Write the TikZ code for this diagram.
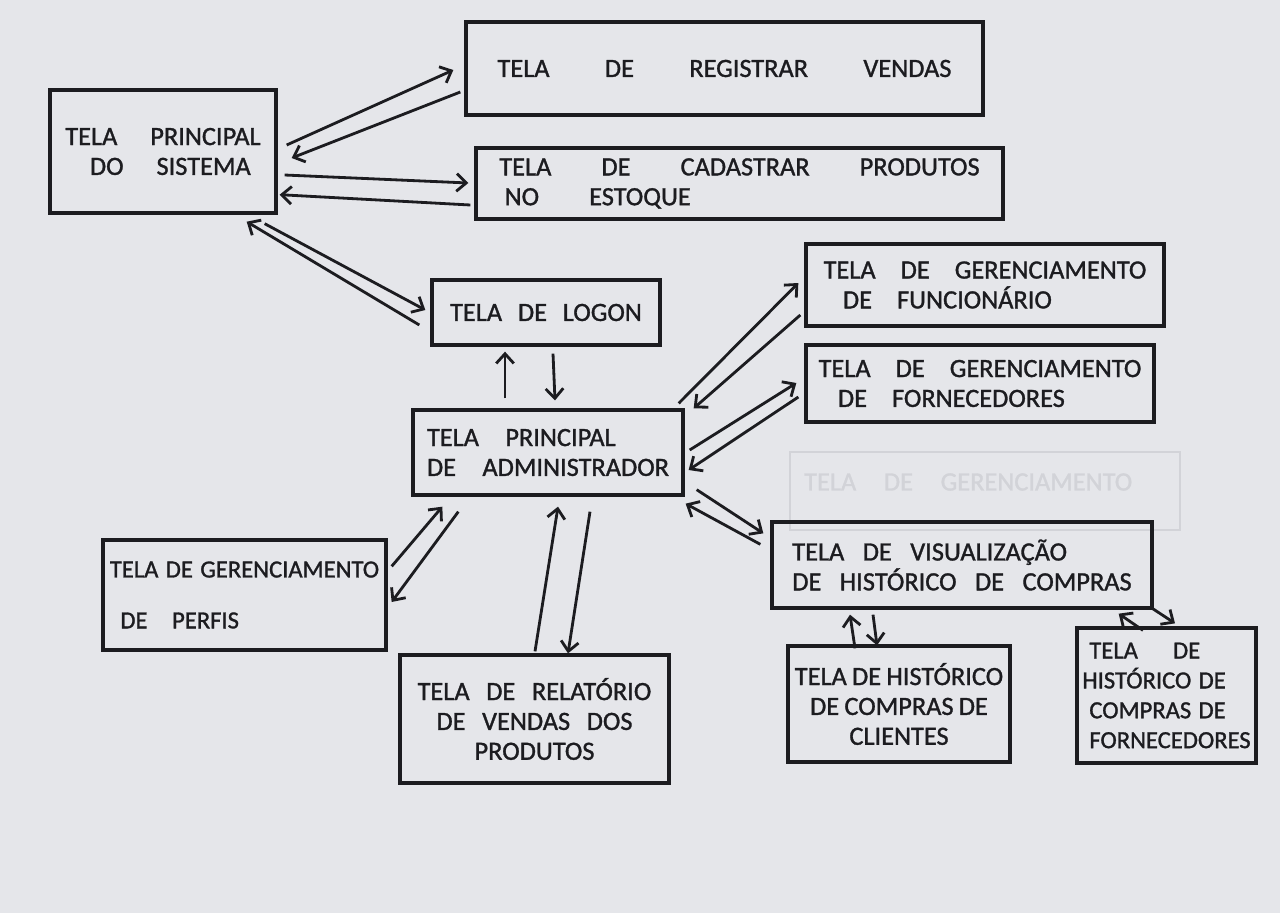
\documentclass[tikz,border=0pt]{standalone}
\usepackage{fontspec}
\setmainfont{Carlito}[FakeBold=1.2]
\usetikzlibrary{arrows.meta}
\definecolor{papel}{RGB}{229,230,234}
\definecolor{tinta}{RGB}{28,28,32}
\definecolor{rascunho}{RGB}{210,211,216}
\newcommand\letra[2]{\fontsize{#1}{17}\selectfont\spaceskip=#2em\relax}

\begin{document}
\begin{tikzpicture}[x=0.02cm, y=-0.02cm,
  tela/.style={draw=tinta, line width=1.9pt, inner sep=2pt, align=left, text=tinta},
  caixa/.style 2 args={minimum width=#1*0.02cm, minimum height=#2*0.02cm},
  seta/.style={draw=tinta, line width=1.6pt, -{Straight Barb[length=5.5pt,width=10pt]}}]
  \useasboundingbox (0,0) rectangle (1280,913);
  \fill[papel] (0,0) rectangle (1280,913);

  % rascunho apagado
  \draw[rascunho, line width=0.8pt] (790,452) rectangle (1180,530);
  \node[text=rascunho, font=\letra{15}{1.05}, anchor=west] (apagado) at (798,482) {TELA DE GERENCIAMENTO};

  % Telas do sistema
  \node[tela, caixa={226}{123}, font=\letra{15}{1.25}] (sis) at (163,151.5) {TELA PRINCIPAL\\\hspace*{14pt}DO SISTEMA};
  \node[tela, caixa={517}{93}, font=\letra{15}{2.1}] (reg) at (724.5,68.5) {TELA DE REGISTRAR VENDAS};
  \node[tela, caixa={527}{71}, font=\letra{15}{1.9}] (cad) at (739.5,183.5) {TELA DE CADASTRAR PRODUTOS\\\hspace*{3pt}NO ESTOQUE};
  \node[tela, caixa={228}{65}, font=\letra{15}{0.6}] (logon) at (546,312.5) {TELA DE LOGON};

  % Telas do administrador
  \node[tela, caixa={270}{85}, font=\letra{15}{1}] (adm) at (548,452.5) {TELA PRINCIPAL\\DE ADMINISTRADOR};
  \node[tela, caixa={358}{82}, font=\letra{15}{0.95}] (func) at (985,285) {TELA DE GERENCIAMENTO\\\hspace*{11pt}DE FUNCIONÁRIO};
  \node[tela, caixa={348}{77}, font=\letra{15}{0.95}] (forn) at (980,383.5) {TELA DE GERENCIAMENTO\\\hspace*{11pt}DE FORNECEDORES};
  \node[tela, caixa={380}{86}, font=\letra{15}{0.7}] (vis) at (962,565) {TELA DE VISUALIZAÇÃO\\DE HISTÓRICO DE COMPRAS};
  \node[tela, caixa={283}{110}, font=\letra{14}{0.3}] (perf) at (244.5,595) {TELA DE GERENCIAMENTO\\[12pt]\hspace*{6pt}DE\hspace{14pt}PERFIS};
  \node[tela, caixa={269}{128}, font=\letra{15}{0.63}, align=center] (rel) at (534.5,719) {TELA DE RELATÓRIO\\DE VENDAS DOS\\PRODUTOS};
  \node[tela, caixa={222}{116}, font=\letra{15}{0.2}, align=center] (cli) at (899,704) {TELA DE HISTÓRICO\\DE COMPRAS DE\\CLIENTES};
  \node[tela, caixa={179}{135}, font=\letra{14}{0.3}, inner xsep=1pt] (hforn) at (1166.5,695.5) {\hspace*{4pt}TELA\hspace{20pt}DE\\HISTÓRICO DE\\\hspace*{4pt}COMPRAS DE\\\hspace*{4pt}FORNECEDORES};

  % Ligacoes da tela principal do sistema
  \draw[seta] ([shift={(9,-6.5)}]sis.east) -- ([shift={(-11,1.5)}]reg.west);
  \draw[seta] ([shift={(-4,23.5)}]reg.west) -- ([shift={(14,6.5)}]sis.east);
  \draw[seta] ([shift={(7,23.5)}]sis.east) -- ([shift={(-6,-0.5)}]cad.west);
  \draw[seta] ([shift={(-4,21.5)}]cad.west) -- ([shift={(2,-20)}]sis.south east);
  \draw[seta] ([shift={(-13,9)}]sis.south east) -- ([shift={(-5,-2.5)}]logon.west);
  \draw[seta] ([shift={(-11,12.5)}]logon.west) -- ([shift={(-31,7)}]sis.south east);

  % Logon e administrador
  \draw[seta] ([shift={(-43,-10)}]adm.north) -- ([shift={(-41,5)}]logon.south);
  \draw[seta] ([shift={(7,7)}]logon.south) -- ([shift={(7,-8)}]adm.north);

  % Ligacoes da tela do administrador
  \draw[seta] ([shift={(-6,-5)}]adm.north east) -- ([shift={(-6,-2)}]func.west);
  \draw[seta] ([shift={(-4,30)}]func.west) -- ([shift={(9,0)}]adm.north east);
  \draw[seta] ([shift={(5,-2.5)}]adm.east) -- ([shift={(-8,-0.5)}]forn.west);
  \draw[seta] ([shift={(-6,13.5)}]forn.west) -- ([shift={(4,17.5)}]adm.east);
  \draw[seta] ([shift={(12,-7)}]adm.south east) -- ([shift={(-7,13)}]vis.north west);
  \draw[seta] ([shift={(-10,24)}]vis.north west) -- ([shift={(1,7)}]adm.south east);
  \draw[seta] ([shift={(4,28)}]perf.north east) -- ([shift={(31,10)}]adm.south west);
  \draw[seta] ([shift={(47,15)}]adm.south west) -- ([shift={(4,7)}]perf.east);
  \draw[seta] ([shift={(0.5,-2)}]rel.north) -- ([shift={(10,10)}]adm.south);
  \draw[seta] ([shift={(42,15)}]adm.south) -- ([shift={(33.5,0)}]rel.north);

  % Historicos de compras
  \draw[seta] ([shift={(-44,4)}]cli.north) -- ([shift={(-112,5)}]vis.south);
  \draw[seta] ([shift={(-89,5)}]vis.south) -- ([shift={(-22,1)}]cli.north);
  \draw[seta] ([shift={(-23.5,4)}]hforn.north) -- ([shift={(-35,4)}]vis.south east);
  \draw[seta] ([shift={(-4,-3)}]vis.south east) -- ([shift={(8.5,-3)}]hforn.north);
\end{tikzpicture}
\end{document}
